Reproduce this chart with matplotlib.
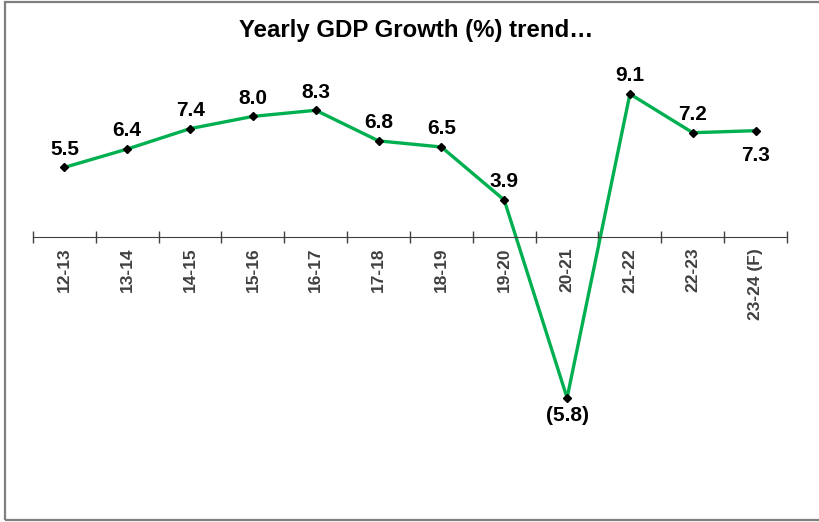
import matplotlib
matplotlib.use("Agg")
import matplotlib.pyplot as plt
from matplotlib.patches import Rectangle

# yearly GDP growth, %
years = ["12-13", "13-14", "14-15", "15-16", "16-17", "17-18", "18-19",
         "19-20", "20-21", "21-22", "22-23", "23-24 (F)"]
growth = [5.5, 6.4, 7.4, 8.0, 8.3, 6.8, 6.5, 3.9, -5.8, 9.1, 7.2, 7.3]
labels = ["5.5", "6.4", "7.4", "8.0", "8.3", "6.8", "6.5", "3.9", "(5.8)",
          "9.1", "7.2", "7.3"]

plt.rcParams['font.family'] = ['Liberation Sans', 'DejaVu Sans']

W, H = 819, 522
fig = plt.figure(figsize=(W / 100, H / 100), dpi=100)

# axes placed so category slots span 33..787 px, y = 12 at 34.8 px, y = -10 at 483.6 px
ax = fig.add_axes([33 / W, 1 - 483.6 / H, 754 / W, (483.6 - 34.8) / H])
ax.set_xlim(-0.5, len(years) - 0.5)
ax.set_ylim(-10, 12)

xs = list(range(len(years)))
ax.plot(xs, growth, color="#00B050", lw=2.4, zorder=2)
ax.plot(xs, growth, ls="none", marker="D", ms=3.6, color="black", zorder=3)

# label offsets in points (most sit above, the dip and the last one below)
offs = [13] * len(xs)
offs[8] = -13
offs[11] = -18
for x, v, lab, off in zip(xs, growth, labels, offs):
    ax.annotate(lab, (x, v), xytext=(0, off), textcoords="offset points",
                ha="center", va="center", fontsize=15, fontweight="bold",
                color="black")

# category axis crosses the value axis a bit above zero
ax.spines["bottom"].set_position(("data", 2.1))
ax.spines["bottom"].set_color("#404040")
for s in ["left", "right", "top"]:
    ax.spines[s].set_visible(False)
ax.set_yticks([])
ax.set_xticks([i - 0.5 for i in range(len(years) + 1)])
ax.set_xticklabels([])
ax.set_xticks(xs, minor=True)
ax.set_xticklabels(years, minor=True, rotation=90, fontsize=12.5,
                   fontweight="bold", color="#404040", va="top")
ax.tick_params(axis="x", which="major", direction="inout", length=8,
               color="#404040", width=1)
ax.tick_params(axis="x", which="minor", length=0, pad=8)

fig.text(416 / W, 1 - 30 / H, "Yearly GDP Growth (%) trend\u2026",
         ha="center", va="center", fontsize=17.3, fontweight="bold")

# outer frame (right side cut off in the original)
fig.patches.append(Rectangle((5 / W, 1 - 520 / H), 1.0, (518) / H,
                             transform=fig.transFigure, fill=False,
                             edgecolor="#7f7f7f", lw=1.6))

fig.savefig("out.png", dpi=100)
